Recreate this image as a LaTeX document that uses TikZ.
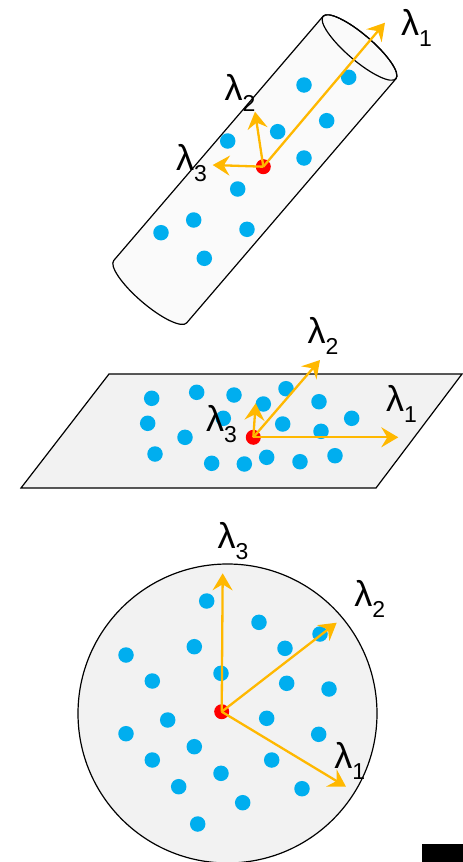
\documentclass[tikz,border=0pt]{standalone}
\usepackage{fontspec}
\setmainfont{Liberation Sans}
\usetikzlibrary{arrows.meta}
\definecolor{dotblue}{HTML}{00AEEF}
\definecolor{axisorange}{HTML}{FFB800}
\definecolor{cylfill}{HTML}{FAFAFA}
\definecolor{shapefill}{HTML}{F2F2F2}
\newcommand{\lamsub}[1]{{\fontsize{36}{36}\selectfont λ}\raisebox{-11.5pt}{\fontsize{23}{23}\selectfont #1}}
\tikzset{
  dot/.style={circle,fill=dotblue,inner sep=0pt,minimum size=15.5pt},
  centre/.style={circle,fill=red,inner sep=0pt,minimum size=15pt},
  axisarrow/.style={draw=axisorange,line width=2.3pt,-{Stealth[length=17pt,width=20pt,inset=6pt]}},
  outline/.style={draw=black,line width=1.2pt},
  lab/.style={anchor=base west,inner sep=0pt,outer sep=0pt}
}
\begin{document}
\begin{tikzpicture}[x=1pt,y=-1pt]
\useasboundingbox (0,0) rectangle (463,862);
% ---------------- cylinder ----------------
\begin{scope}[shift={(359.5,47.5)},rotate=-40.6]
  \path[outline,fill=cylfill] (-48,0) arc[start angle=180,end angle=360,x radius=48,y radius=13]
     -- (48,321.6) arc[start angle=0,end angle=180,x radius=48,y radius=13] -- cycle;
  \draw[outline] (0,0) ellipse[x radius=48,y radius=13];
\end{scope}
\foreach \p [count=\i] in {(304,85),(348.7,77.3),(326.7,120.7),(277.7,131.7),(227.7,141),(304,158),(237.7,189),(193.7,220),(161,232.7),(247,229.3),(204.3,258.3)}
  \node[dot] (cd\i) at \p {};
\node[centre] (cc) at (263.3,166.7) {};
\coordinate (ce1) at (385,22.7);
\coordinate (ce2) at (255,111.7);
\coordinate (ce3) at (212.7,165);
\draw[axisarrow] (cc.center) -- (ce1);
\draw[axisarrow] (cc.center) -- (ce2);
\draw[axisarrow] (cc.center) -- (ce3);
\node[lab] (cl1) at (401,35) {\lamsub{1}};
\node[lab] (cl2) at (224.5,100) {\lamsub{2}};
\node[lab] (cl3) at (176,170) {\lamsub{3}};
% ---------------- plane ----------------
\path[outline,fill=shapefill] (109,374) -- (462,374) -- (376,488) -- (21,488) -- cycle;
\foreach \p [count=\i] in {(151.7,398.3),(196.7,392.3),(234,395),(286,388.7),(319,401.7),(351.7,418.3),(147.7,423.3),(185,437.3),(223.3,418.3),(263.3,404),(282.7,424),(321,431.3),(155,454),(211.7,463.3),(244.3,464),(266.7,457.3),(300,461.7),(335,455.7)}
  \node[dot] (pd\i) at \p {};
\node[centre] (pc) at (253.3,437.3) {};
\coordinate (pe1) at (398.3,437.3);
\coordinate (pe2) at (320,360);
\coordinate (pe3) at (255.7,403.3);
\draw[axisarrow] (pc.center) -- (pe1);
\draw[axisarrow] (pc.center) -- (pe2);
\draw[axisarrow] (pc.center) -- (pe3);
\node[lab] (pl1) at (386,411) {\lamsub{1}};
\node[lab] (pl2) at (307.7,343) {\lamsub{2}};
\node[lab] (pl3) at (206,431) {\lamsub{3}};
% ---------------- sphere ----------------
\path[outline,fill=shapefill] (227.5,713.5) circle[radius=149.5];
\foreach \p [count=\i] in {(206.7,601),(259,622.3),(320,634),(285,648.3),(194.3,646.7),(126,655),(221,673.3),(152.3,681),(286.7,683.3),(329,689),(167.7,720),(266.7,718.3),(126,733.7),(318.7,734.3),(194.3,746.7),(152.3,760),(271.7,760),(221,773.3),(178.7,786.7),(302,788.7),(242.7,802.7),(197.7,824)}
  \node[dot] (sd\i) at \p {};
\node[centre] (sc) at (221.7,711.7) {};
\coordinate (se1) at (346,786.7);
\coordinate (se2) at (336.7,622.7);
\coordinate (se3) at (222.7,573.3);
\draw[axisarrow] (sc.center) -- (se1);
\draw[axisarrow] (sc.center) -- (se2);
\draw[axisarrow] (sc.center) -- (se3);
\node[lab] (sl1) at (334.4,768) {\lamsub{1}};
\node[lab] (sl2) at (354.4,606) {\lamsub{2}};
\node[lab] (sl3) at (217.7,548) {\lamsub{3}};
% ---------------- black block ----------------
\fill[black] (421.7,844) rectangle (463,862);
\end{tikzpicture}
\end{document}
